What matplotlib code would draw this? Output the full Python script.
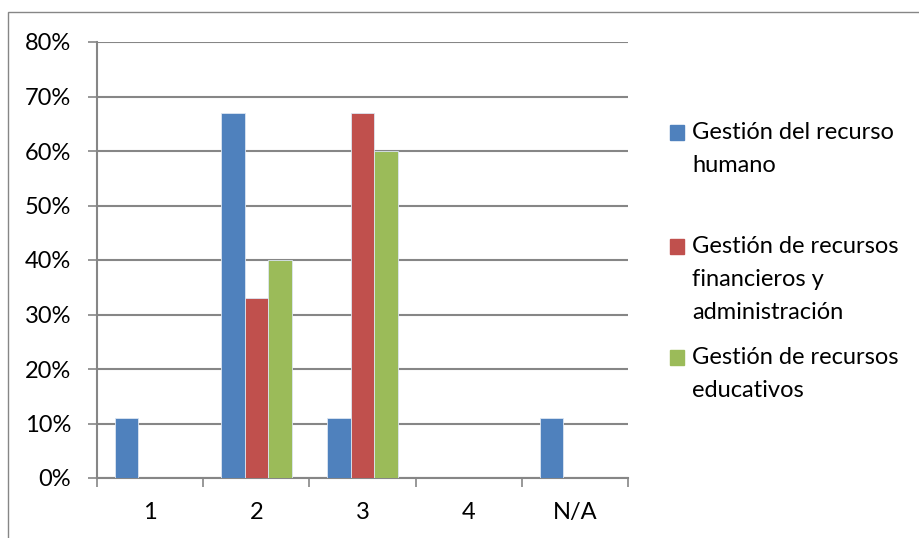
import matplotlib
matplotlib.use('Agg')
import matplotlib.pyplot as plt
from matplotlib.patches import Rectangle
from matplotlib.ticker import FixedLocator, PercentFormatter
import numpy as np

categories = ['1', '2', '3', '4', 'N/A']
series_names = ['Gestión del recurso\nhumano',
                'Gestión de recursos\nfinancieros y\nadministración',
                'Gestión de recursos\neducativos']
humano = [11, 67, 11, 0, 11]
financieros = [0, 33, 67, 0, 0]
educativos = [0, 40, 60, 0, 0]
colors = ['#4F81BD', '#C0504D', '#9BBB59']

plt.rcParams['font.family'] = ['Lato', 'DejaVu Sans']
W, H = 920, 538
fig = plt.figure(figsize=(W / 100, H / 100), dpi=100)
ax = fig.add_axes([97 / W, (H - 478) / H, (628 - 97) / W, (478 - 42) / H])

x = np.arange(len(categories))
bw = 0.222
for i, (vals, col) in enumerate(zip([humano, financieros, educativos], colors)):
    ax.bar(x + (i - 1) * bw, vals, width=bw, color=col, edgecolor='#DCE6F2', linewidth=0.6, zorder=3)

ax.set_xlim(-0.5, len(categories) - 0.5)
ax.set_ylim(0, 80)
ax.set_yticks(np.arange(0, 81, 10))
ax.yaxis.set_major_formatter(PercentFormatter(decimals=0))
ax.yaxis.grid(True, color='#868686', linewidth=1.5, zorder=0)
ax.set_axisbelow(True)

ax.set_xticks(x)
ax.set_xticklabels(categories)
ax.xaxis.set_minor_locator(FixedLocator(np.arange(-0.5, len(categories), 1)))
ax.tick_params(axis='x', which='major', length=0, pad=17, labelsize=17)
ax.tick_params(axis='x', which='minor', length=6.5, width=1.2, color='#868686')
ax.tick_params(axis='y', length=6.5, width=1.2, color='#868686', pad=12, labelsize=17)

for side in ['top', 'right']:
    ax.spines[side].set_visible(False)
for side in ['left', 'bottom']:
    ax.spines[side].set_color('#868686')
    ax.spines[side].set_linewidth(1.5)

# legend drawn by hand to match spacing
leg_y = [133, 247, 358]
for name, col, yy in zip(series_names, colors, leg_y):
    fig.patches.append(Rectangle((670 / W, (H - yy - 7) / H), 14 / W, 15 / H,
                                 transform=fig.transFigure, color=col))
    fig.text(692 / W, (H - yy + 11) / H, name, fontsize=17, va='top', ha='left',
             linespacing=1.72)

fig.patches.append(Rectangle((8 / W, -0.1), 2, (H - 12) / H + 0.1, transform=fig.transFigure,
                             fill=False, edgecolor='#868686', linewidth=1))

fig.savefig('out.png', dpi=100)
